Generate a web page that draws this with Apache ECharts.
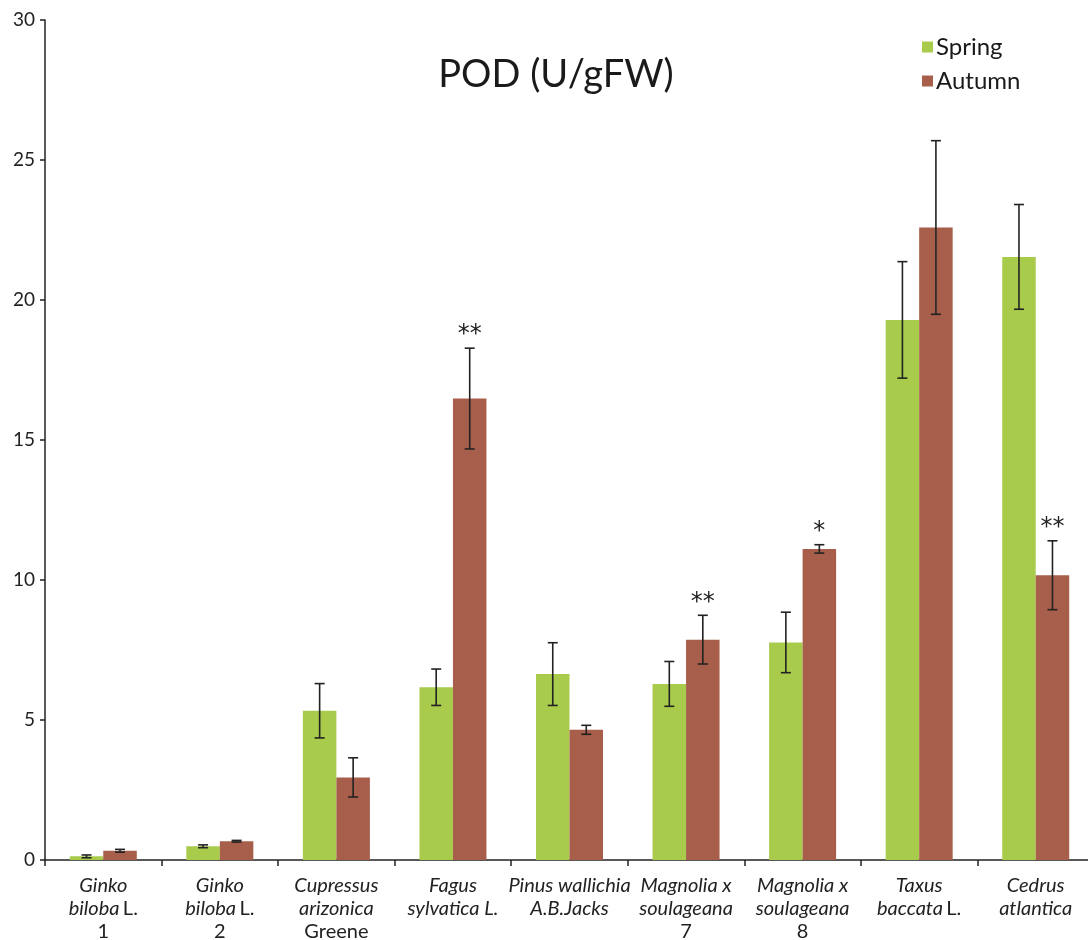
<!DOCTYPE html>
<html>
<head>
<meta charset="utf-8">
<script src="https://cdn.jsdelivr.net/npm/echarts@6/dist/echarts.min.js"></script>
<style>html,body{margin:0;padding:0;background:#fff}#c{width:1088px;height:940px}</style>
</head>
<body>
<div id="c"></div>
<script>
const categories = [
  '{i|Ginko}\n{i|biloba} {n|L.}\n{n|1}',
  '{i|Ginko}\n{i|biloba} {n|L.}\n{n|2}',
  '{i|Cupressus}\n{i|arizonica}\n{n|Greene}',
  '{i|Fagus}\n{i|sylvatica L.}',
  '{i|Pinus wallichia}\n{i|A.B.Jacks}',
  '{i|Magnolia x}\n{i|soulageana}\n{n|7}',
  '{i|Magnolia x}\n{i|soulageana}\n{n|8}',
  '{i|Taxus}\n{i|baccata} {n|L.}',
  '{i|Cedrus}\n{i|atlantica}'
];
const springValues = [0.13, 0.49, 5.33, 6.17, 6.64, 6.29, 7.77, 19.29, 21.54];
const springErrors = [0.05, 0.05, 0.97, 0.65, 1.12, 0.80, 1.08, 2.08, 1.87];
const autumnValues = [0.33, 0.67, 2.95, 16.48, 4.65, 7.87, 11.11, 22.59, 10.17];
const autumnErrors = [0.05, 0.03, 0.70, 1.80, 0.16, 0.87, 0.15, 3.10, 1.23];
const significance = ['', '', '', '**', '', '**', '*', '', '**'];
const yTicks = [0, 5, 10, 15, 20, 25, 30];

const GREEN = '#A9CB4C';
const BROWN = '#A75E4A';
const BAR_W = 33.5;
const FONT = 'Lato, "Open Sans", sans-serif';

function errData(vals, errs) {
  return vals.map((v, i) => [i, v, errs[i]]);
}
function makeRender(side) {
  return function (params, api) {
    const idx = api.value(0), v = api.value(1), e = api.value(2);
    const s = params.dataIndex;
    const sigTxt = side > 0 ? significance[s] : '';
    const top = api.coord([idx, v + e]);
    const bot = api.coord([idx, v - e]);
    const x = top[0] + side * BAR_W / 2;
    const cap = 5;
    const st = { stroke: '#222', lineWidth: 1.6 };
    const children = [
      { type: 'line', shape: { x1: x, y1: top[1], x2: x, y2: bot[1] }, style: st },
      { type: 'line', shape: { x1: x - cap, y1: top[1], x2: x + cap, y2: top[1] }, style: st },
      { type: 'line', shape: { x1: x - cap, y1: bot[1], x2: x + cap, y2: bot[1] }, style: st }
    ];
    if (sigTxt) {
      children.push({ type: 'text', style: { text: sigTxt, x: x, y: top[1] - 13,
        align: 'center', verticalAlign: 'middle', font: '24px "DejaVu Sans", sans-serif', fill: '#222' } });
    }
    return { type: 'group', children };
  };
}

const chart = echarts.init(document.getElementById('c'), null, { renderer: 'canvas' });
chart.setOption({
  backgroundColor: '#fff',
  animation: false,
  title: {
    text: 'POD (U/gFW)', left: 551, top: 51, textAlign: 'center',
    textStyle: { fontFamily: FONT, fontSize: 38, fontWeight: 'normal', color: '#1a1a1a' }
  },
  legend: {
    data: ['Spring', 'Autumn'], orient: 'vertical', left: 917, top: 30,
    itemWidth: 11, itemHeight: 11, itemGap: 10,
    textStyle: { fontFamily: FONT, fontSize: 24, color: '#1a1a1a', padding: [0, 0, 0, -2] },
    icon: 'rect'
  },
  grid: { left: 45, top: 20, width: 1049, height: 840, outerBoundsMode: 'none', containLabel: false },
  xAxis: {
    type: 'category', data: categories,
    axisLine: { lineStyle: { color: '#222', width: 1.5 } },
    axisTick: { show: true, length: 6, lineStyle: { color: '#222', width: 1.5 } },
    axisLabel: {
      margin: 14, interval: 0, lineHeight: 23, hideOverlap: false,
      rich: {
        i: { fontFamily: FONT, fontStyle: 'italic', fontSize: 20, color: '#222', lineHeight: 23 },
        n: { fontFamily: FONT, fontStyle: 'normal', fontSize: 20, color: '#222', lineHeight: 23 }
      }
    }
  },
  yAxis: {
    type: 'value', min: 0, max: 30, interval: 5,
    splitLine: { show: false },
    axisLine: { show: true, lineStyle: { color: '#222', width: 1.5 } },
    axisTick: { show: true, length: 5, lineStyle: { color: '#222', width: 1.5 } },
    axisLabel: { fontFamily: FONT, fontSize: 19, color: '#222', margin: 10,
      formatter: v => yTicks.includes(v) ? String(v) : '' }
  },
  series: [
    { name: 'Spring', type: 'bar', data: springValues, barWidth: BAR_W, barGap: '0%',
      itemStyle: { color: GREEN } },
    { name: 'Autumn', type: 'bar', data: autumnValues, barWidth: BAR_W, barGap: '0%',
      itemStyle: { color: BROWN } },
    { name: 'errS', type: 'custom', data: errData(springValues, springErrors),
      renderItem: makeRender(-1), encode: { x: 0, y: 1 }, z: 5 },
    { name: 'errA', type: 'custom', data: errData(autumnValues, autumnErrors),
      renderItem: makeRender(1), encode: { x: 0, y: 1 }, z: 5 }
  ]
});
</script>
</body>
</html>
